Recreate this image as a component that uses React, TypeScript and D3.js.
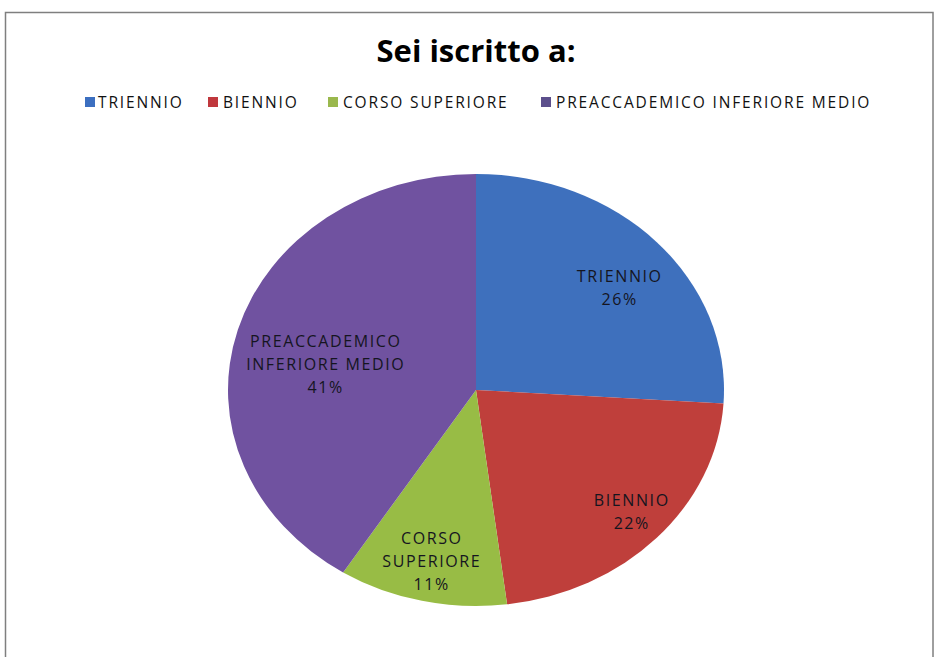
import React from "react";
import * as d3 from "d3";

const title = "Sei iscritto a:";
const categories = ["TRIENNIO", "BIENNIO", "CORSO SUPERIORE", "PREACCADEMICO INFERIORE MEDIO"];
const labelLines = [["TRIENNIO"], ["BIENNIO"], ["CORSO", "SUPERIORE"], ["PREACCADEMICO", "INFERIORE MEDIO"]];
const values = [26, 22, 11, 41];
const sliceColors = ["#3E70BD", "#BF3F3B", "#98BC45", "#7052A0"];
const legendColors = ["#3C6FC0", "#C0383D", "#9AB84D", "#5C4F8C"];

const W = 935;
const H = 657;

export default function App() {
  const cx = 476;
  const cy = 390;
  const rx = 248;
  const ry = 216;
  const sx = rx / ry;

  const pie = d3.pie<number>().sort(null).value((d) => d)(values);
  const arc = d3.arc<d3.PieArcDatum<number>>().innerRadius(0).outerRadius(ry);
  const total = d3.sum(values);
  const fmt = d3.format(".0%");

  // label layout: radial factor and angular nudge (degrees)
  const labelR = [0.748, 0.841, 0.81, 0.621];
  const labelDA = [3.6, -1.2, 0.35, -5];

  const legendX = [85, 208, 328, 541];
  const legendTextDX = [13, 15, 15, 15];
  const fontFam = "'Open Sans', 'Noto Sans', sans-serif";
  const labelLS = 1.6;

  return (
    <svg
      width={W}
      height={H}
      style={{ position: "absolute", left: 0, top: 0, background: "#fff" }}
      fontFamily={fontFam}
    >
      <rect x={0} y={0} width={W} height={H} fill="#fff" />
      <rect x={5.5} y={12.5} width={927.5} height={700} fill="#fff" stroke="#7f7f7f" strokeWidth={1.5} />
      <text x={476} y={62} textAnchor="middle" fontSize={31} fontWeight={700} fill="#000">
        {title}
      </text>
      {categories.map((c, i) => (
        <g key={c}>
          <rect x={legendX[i]} y={97} width={10} height={10} fill={legendColors[i]} />
          <text x={legendX[i] + legendTextDX[i]} y={107.5} fontSize={15.5} fill="#111" letterSpacing={1.85}>
            {c}
          </text>
        </g>
      ))}
      <g transform={`translate(${cx},${cy}) scale(${sx},1)`}>
        {pie.map((p, i) => (
          <path key={i} d={arc(p) || ""} fill={sliceColors[i]} />
        ))}
      </g>
      {pie.map((p, i) => {
        const mid = (p.startAngle + p.endAngle) / 2 + (labelDA[i] * Math.PI) / 180;
        const lx = cx + Math.sin(mid) * rx * labelR[i] + labelLS / 2;
        const ly = cy - Math.cos(mid) * ry * labelR[i];
        const lines = [...labelLines[i], fmt(p.value / total)];
        const lh = 23;
        const y0 = ly - ((lines.length - 1) * lh) / 2 + 6;
        return (
          <text key={i} textAnchor="middle" fontSize={16} fill="#15151f" letterSpacing={labelLS}>
            {lines.map((t, j) => (
              <tspan key={j} x={lx} y={y0 + j * lh}>
                {t}
              </tspan>
            ))}
          </text>
        );
      })}
    </svg>
  );
}
